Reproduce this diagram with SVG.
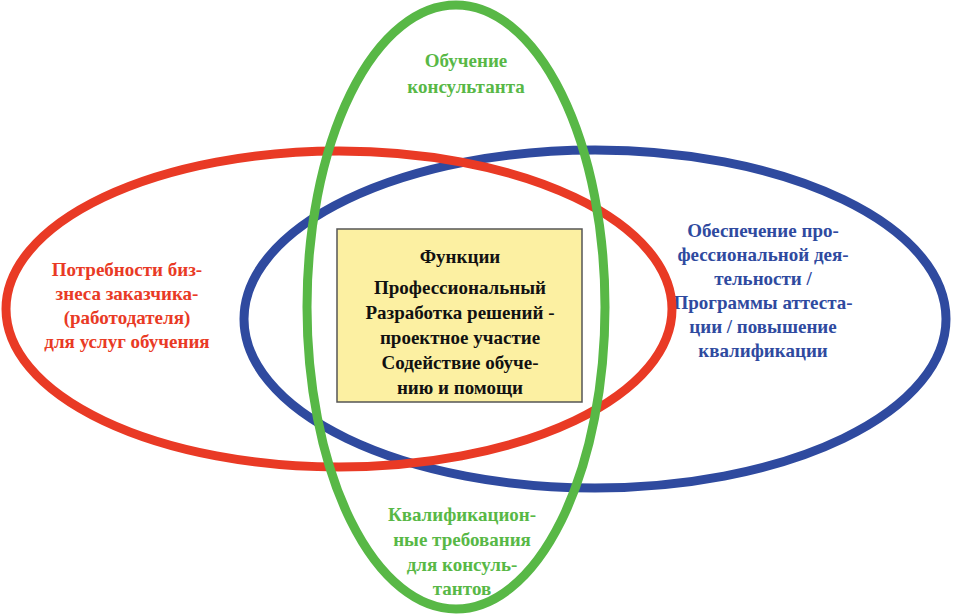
<svg xmlns="http://www.w3.org/2000/svg" width="955" height="614" viewBox="0 0 955 614">
<style>
.ring{fill:none;stroke-width:9}
.t{font-family:"Liberation Serif","DejaVu Serif",serif;font-weight:bold;font-size:19px;text-anchor:middle}
.red{fill:#e93a25}
.blue{fill:#2f4a9f}
.green{fill:#58b846}
.blk{fill:#111}
</style>
<rect width="955" height="614" fill="#fff"/>
<g id="blue-set">
<ellipse class="ring" cx="595" cy="319" rx="351" ry="169" stroke="#2f4a9f"/>
<text class="t blue" x="763" y="237">Обеспечение про-</text>
<text class="t blue" x="763" y="261">фессиональной дея-</text>
<text class="t blue" x="763" y="285">тельности /</text>
<text class="t blue" x="763" y="309">Программы аттеста-</text>
<text class="t blue" x="763" y="333">ции / повышение</text>
<text class="t blue" x="763" y="357">квалификации</text>
</g>
<g id="red-set">
<ellipse class="ring" cx="339" cy="309" rx="333" ry="158" stroke="#e93a25"/>
<text class="t red" x="127" y="276">Потребности биз-</text>
<text class="t red" x="127" y="300">знеса заказчика-</text>
<text class="t red" x="127" y="324">(работодателя)</text>
<text class="t red" x="127" y="348">для услуг обучения</text>
</g>
<g id="green-set">
<ellipse class="ring" cx="456" cy="307" rx="149" ry="302" stroke="#58b846"/>
<text class="t green" x="466" y="67">Обучение</text>
<text class="t green" x="466" y="93">консультанта</text>
<text class="t green" x="462" y="521">Квалификацион-</text>
<text class="t green" x="462" y="546">ные требования</text>
<text class="t green" x="462" y="571">для консуль-</text>
<text class="t green" x="462" y="595">тантов</text>
</g>
<g id="center">
<rect x="337" y="229" width="245" height="173" fill="#fcf0a2" stroke="#555" stroke-width="1.5"/>
<text class="t blk" x="460" y="263">Функции</text>
<text class="t blk" x="460" y="294">Профессиональный</text>
<text class="t blk" x="460" y="319">Разработка решений -</text>
<text class="t blk" x="460" y="344">проектное участие</text>
<text class="t blk" x="460" y="369">Содействие обуче-</text>
<text class="t blk" x="460" y="394">нию и помощи</text>
</g>
<g id="connectors"/>
</svg>
